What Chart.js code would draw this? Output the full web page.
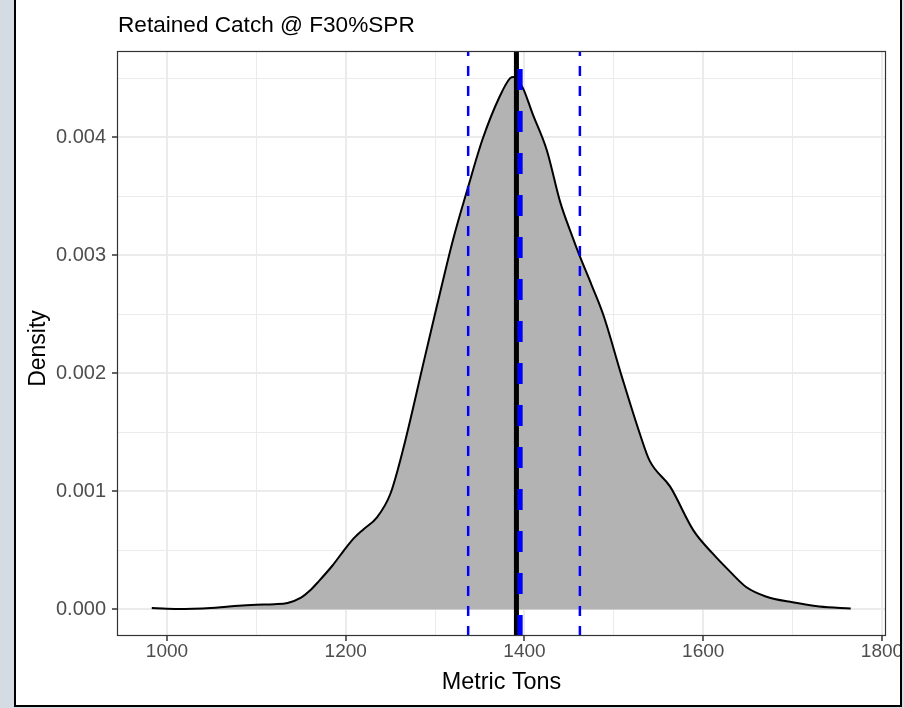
<!DOCTYPE html>
<html>
<head>
<meta charset="utf-8">
<script src="https://cdn.jsdelivr.net/npm/chart.js@4.4.1/dist/chart.umd.min.js"></script>
<style>
  html, body { margin:0; padding:0; width:904px; height:708px; overflow:hidden; background:#d5dbe3; }
  #frame { position:absolute; left:14px; top:-2px; width:884px; height:705px; border:2px solid #000; background:#fff; }
  #c { position:absolute; left:0; top:0; }
</style>
</head>
<body>
<div id="frame"><canvas id="c" width="884" height="705"></canvas></div>
<script>
// ---- data ----
const chartTitle = 'Retained Catch @ F30%SPR';
const xAxisTitle = 'Metric Tons';
const yAxisTitle = 'Density';

const densityX = [983, 1000, 1020, 1040, 1060, 1080, 1100, 1120, 1135, 1150, 1160, 1170, 1185, 1200, 1210, 1220, 1235, 1250, 1264, 1288, 1302, 1320, 1337, 1353, 1372, 1384, 1388, 1398, 1409, 1425, 1440, 1454, 1462, 1475, 1488, 1509, 1529, 1540, 1563, 1589, 1611, 1630, 1648, 1670, 1700, 1730, 1765];
const densityY = [0.000012, 0.000006, 0.000004, 0.000008, 0.000018, 0.000032, 0.000040, 0.000044, 0.000055, 0.00010, 0.00016, 0.00024, 0.00037, 0.00052, 0.00061, 0.00068, 0.00078, 0.00098, 0.00135, 0.00212, 0.00257, 0.00313, 0.00358, 0.00398, 0.00434, 0.00450, 0.00451, 0.00442, 0.00420, 0.00389, 0.00345, 0.00315, 0.00299, 0.00275, 0.00250, 0.00197, 0.00149, 0.00126, 0.00104, 0.00067, 0.00047, 0.00032, 0.00019, 0.00011, 0.00006, 0.000025, 0.000008];

const solidLineX = 1391;          // black solid line
const thickDashX = 1395;          // thick blue dashed line
const thinDashX = [1337, 1462];   // thin blue dashed lines

const xMajorTicks = [1000, 1200, 1400, 1600, 1800];
const xTickLabels = ['1000', '1200', '1400', '1600', '1800'];
const xMinorTicks = [1100, 1300, 1500, 1700];
const yMajorTicks = [0, 0.001, 0.002, 0.003, 0.004];
const yTickLabels = ['0.000', '0.001', '0.002', '0.003', '0.004'];
const yMinorTicks = [0.0005, 0.0015, 0.0025, 0.0035, 0.0045];

const xMin = 944.1, xMax = 1804.5;
const yMin = -0.000225, yMax = 0.00473;

// ---- chart ----
const FONT = '"Liberation Sans", Arial, sans-serif';
const isMajorX = v => xMajorTicks.includes(v);
const isMajorY = v => yMajorTicks.some(t => Math.abs(t - v) < 1e-9);

function vline(x, color, width, dash, order) {
  return {
    type: 'line',
    data: [{x: x, y: yMin}, {x: x, y: yMax}],
    borderColor: color, borderWidth: width, borderDash: dash,
    pointRadius: 0, fill: false, order: order, tension: 0, borderCapStyle: 'butt'
  };
}

const datasets = [
  {
    type: 'line',
    data: densityX.map((x, i) => ({x: x, y: densityY[i]})),
    borderColor: '#000', borderWidth: 2, backgroundColor: '#b3b3b3',
    fill: 'origin', pointRadius: 0, cubicInterpolationMode: 'monotone', order: 10
  },
  vline(solidLineX, '#000', 5, [], 5),
  vline(thickDashX, '#0000ff', 5.3, [21, 21], 4),
  vline(thinDashX[0], '#0000ff', 2.5, [10, 10], 3),
  vline(thinDashX[1], '#0000ff', 2.5, [10, 10], 2)
];

const decor = {
  id: 'decor',
  afterDraw(chart) {
    const {ctx, chartArea: a} = chart;
    ctx.save();
    ctx.strokeStyle = '#333333';
    ctx.lineWidth = 1.2;
    ctx.strokeRect(Math.round(a.left) + 0.5, Math.round(a.top) + 0.5, Math.round(a.right - a.left) - 1, Math.round(a.bottom - a.top) - 1);
    ctx.fillStyle = '#000';
    ctx.textBaseline = 'alphabetic';
    ctx.font = '22.6px ' + FONT;
    ctx.textAlign = 'left';
    ctx.fillText(chartTitle, a.left + 1, 32);
    ctx.font = '23.4px ' + FONT;
    ctx.textAlign = 'center';
    ctx.fillText(xAxisTitle, (a.left + a.right) / 2, 689);
    ctx.font = '23px ' + FONT;
    ctx.translate(29, (a.top + a.bottom) / 2 + 5);
    ctx.rotate(-Math.PI / 2);
    ctx.fillText(yAxisTitle, 0, 0);
    ctx.restore();
  }
};

new Chart(document.getElementById('c'), {
  type: 'line',
  data: { datasets },
  options: {
    responsive: false,
    animation: false,
    devicePixelRatio: 1,
    layout: { padding: { left: 0, top: 51, right: 14, bottom: 0 } },
    plugins: { legend: { display: false }, tooltip: { enabled: false }, title: { display: false } },
    scales: {
      x: {
        type: 'linear', min: xMin, max: xMax,
        afterBuildTicks: s => { s.ticks = [...xMajorTicks, ...xMinorTicks].sort((a, b) => a - b).map(v => ({value: v})); },
        afterFit: s => { s.height = 69; s.paddingLeft = 0; s.paddingRight = 0; },
        border: { display: false },
        grid: {
          color: '#ebebeb',
          lineWidth: c => isMajorX(c.tick.value) ? 2 : 1,
          tickColor: c => isMajorX(c.tick.value) ? '#333333' : 'rgba(0,0,0,0)',
          tickLength: 5, tickWidth: 1.5
        },
        ticks: {
          autoSkip: false, maxRotation: 0, padding: -1,
          color: '#4d4d4d', font: { family: FONT, size: 19 },
          callback: v => { const i = xMajorTicks.indexOf(v); return i >= 0 ? xTickLabels[i] : ''; }
        }
      },
      y: {
        type: 'linear', min: yMin, max: yMax,
        afterBuildTicks: s => { s.ticks = [...yMajorTicks, ...yMinorTicks].sort((a, b) => a - b).map(v => ({value: v})); },
        afterFit: s => { s.width = 101; s.paddingTop = 0; s.paddingBottom = 0; },
        border: { display: false },
        grid: {
          color: '#ebebeb',
          lineWidth: c => isMajorY(c.tick.value) ? 2 : 1,
          tickColor: c => isMajorY(c.tick.value) ? '#333333' : 'rgba(0,0,0,0)',
          tickLength: 5, tickWidth: 1.5
        },
        ticks: {
          autoSkip: false, padding: 6,
          color: '#4d4d4d', font: { family: FONT, size: 20 },
          callback: v => { const i = yMajorTicks.findIndex(t => Math.abs(t - v) < 1e-9); return i >= 0 ? yTickLabels[i] : ''; }
        }
      }
    }
  },
  plugins: [decor]
});
</script>
</body>
</html>
